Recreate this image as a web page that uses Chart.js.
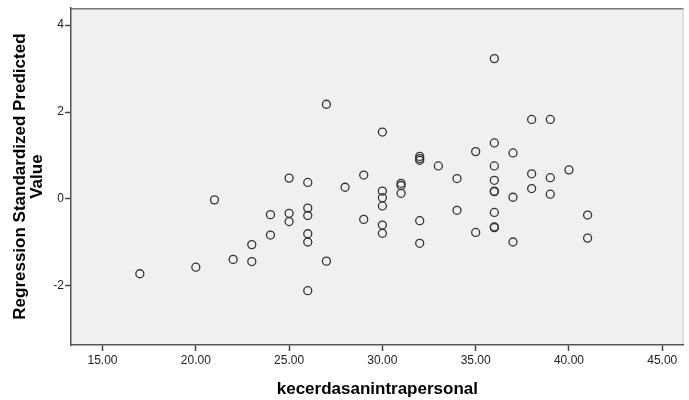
<!DOCTYPE html>
<html>
<head>
<meta charset="utf-8">
<script src="https://cdn.jsdelivr.net/npm/chart.js@4"></script>
<style>
  html, body { margin: 0; padding: 0; background: #fff; }
  #wrap { width: 689px; height: 400px; }
</style>
</head>
<body>
<div id="wrap"><canvas id="myChart" width="689" height="400"></canvas></div>
<script>
// nilai x (kecerdasan intrapersonal) dan nilai prediksi terstandar
const xValues = [17, 20, 21, 22, 23, 23, 24, 24, 25, 25, 25,
  26, 26, 26, 26, 26, 26, 27, 27, 28, 29, 29,
  30, 30, 30, 30, 30, 30, 31, 31, 31,
  32, 32, 32, 32, 32, 33, 34, 34, 35, 35,
  36, 36, 36, 36, 36, 36, 36, 36, 36,
  37, 37, 37, 38, 38, 38, 39, 39, 39, 40, 41, 41];
const yValues = [-1.72, -1.57, -0.02, -1.39, -1.05, -1.44, -0.36, -0.83, 0.48, -0.33, -0.52,
  0.38, -0.21, -0.38, -0.80, -0.99, -2.11, 2.18, -1.43, 0.27, 0.55, -0.47,
  1.54, 0.18, 0.03, -0.16, -0.60, -0.79, 0.36, 0.31, 0.13,
  0.98, 0.93, 0.89, -0.50, -1.02, 0.76, 0.47, -0.26, 1.09, -0.77,
  3.23, 1.29, 0.76, 0.43, 0.18, 0.17, -0.31, -0.64, -0.66,
  1.06, 0.04, -0.99, 1.83, 0.58, 0.24, 1.83, 0.49, 0.11, 0.67, -0.37, -0.90];

const xTicks = [15, 20, 25, 30, 35, 40, 45];
const yTicks = [-2, 0, 2, 4];

const points = xValues.map((x, i) => ({ x: x, y: yValues[i] }));

// latar abu-abu area plot + garis tepi atas/kanan
const plotBg = {
  id: 'plotBg',
  beforeDraw(chart) {
    const { ctx, chartArea: a } = chart;
    ctx.save();
    ctx.fillStyle = '#f0f0f0';
    ctx.fillRect(a.left, a.top, a.right - a.left, a.bottom - a.top);
    ctx.strokeStyle = '#777';
    ctx.lineWidth = 1.5;
    ctx.beginPath();
    ctx.moveTo(a.left, a.top + 0.5);
    ctx.lineTo(a.right, a.top + 0.5);
    ctx.stroke();
    ctx.strokeStyle = '#ccc';
    ctx.lineWidth = 1;
    ctx.beginPath();
    ctx.moveTo(a.right - 0.5, a.top);
    ctx.lineTo(a.right - 0.5, a.bottom);
    ctx.stroke();
    ctx.restore();
  }
};

const ctx = document.getElementById('myChart').getContext('2d');
new Chart(ctx, {
  type: 'scatter',
  data: {
    datasets: [{
      data: points,
      pointStyle: 'circle',
      pointRadius: 4,
      pointBorderWidth: 1.3,
      pointBorderColor: '#333',
      pointBackgroundColor: 'rgba(0,0,0,0)'
    }]
  },
  options: {
    responsive: false,
    animation: false,
    layout: { padding: { top: 8, right: 1, left: 0, bottom: 0 } },
    plugins: { legend: { display: false }, tooltip: { enabled: false } },
    scales: {
      x: {
        type: 'linear',
        min: 13.31,
        max: 46.15,
        afterBuildTicks: s => { s.ticks = xTicks.map(v => ({ value: v })); },
        afterFit: s => { s.height = 55; },
        grid: { drawOnChartArea: false, drawTicks: true, tickLength: 6, color: '#444', tickWidth: 1.5 },
        border: { display: true, color: '#555', width: 1.5 },
        ticks: {
          color: '#222',
          padding: 2,
          font: { family: 'Liberation Sans', size: 12 },
          callback: v => v.toFixed(2)
        },
        title: {
          display: true,
          text: 'kecerdasanintrapersonal',
          color: '#000',
          font: { family: 'Liberation Sans', size: 17, weight: 'bold' },
          padding: { top: 4, bottom: 0 }
        }
      },
      y: {
        type: 'linear',
        min: -3.36,
        max: 4.39,
        afterBuildTicks: s => { s.ticks = yTicks.map(v => ({ value: v })); },
        afterFit: s => { s.width = 71; },
        grid: { drawOnChartArea: false, drawTicks: true, tickLength: 6, color: '#444', tickWidth: 1.5 },
        border: { display: true, color: '#555', width: 1.5 },
        ticks: {
          color: '#222',
          padding: 1,
          font: { family: 'Liberation Sans', size: 12 },
          callback: v => String(v)
        },
        title: {
          display: true,
          text: ['Regression Standardized Predicted', 'Value'],
          color: '#000',
          font: { family: 'Liberation Sans', size: 17, weight: 'bold', lineHeight: 1.05 },
          padding: { top: 11, bottom: 0 }
        }
      }
    }
  },
  plugins: [plotBg]
});
</script>
</body>
</html>
